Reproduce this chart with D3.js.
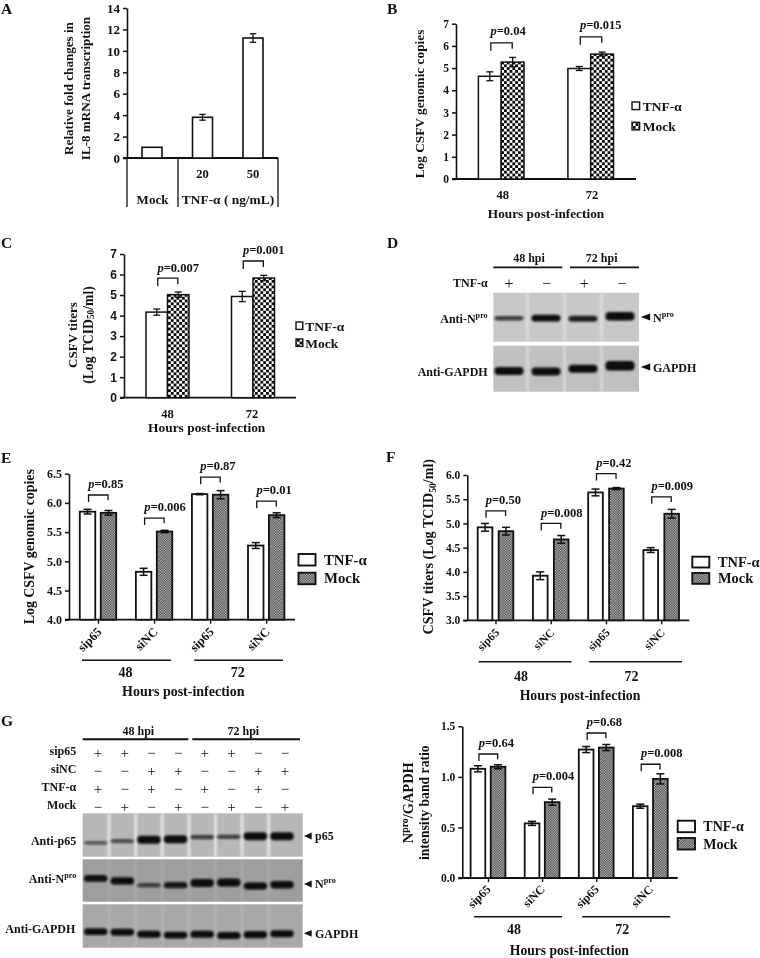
<!DOCTYPE html>
<html><head><meta charset="utf-8">
<script src="https://cdn.jsdelivr.net/npm/d3@7/dist/d3.min.js"></script>
<style>
html,body{margin:0;padding:0;background:#fff}
svg{display:block;filter:blur(0.3px)}
text{font-family:"Liberation Serif",serif;font-weight:700;fill:#111}
.domain,.tick line{stroke:#111}
</style></head><body><div id="c"></div>
<script>
// ---------- data ----------
const seriesNames = ["TNF-α","Mock"];
const ticksA = [0,2,4,6,8,10,12,14];
const dosesA = ["Mock","20","50"];
const foldA = [1,3.8,11.2];
const foldErrA = [0,0.27,0.4];

const hoursBC = ["48","72"];
const genomeB = [4.63,5.27,4.98,5.63];
const genomeErrB = [0.2,0.21,0.09,0.09];
const pLabelsB = ["0.04","0.015"];
const pLevelsB = [6.14,6.41];

const titerC = [4.17,5.02,4.93,5.83];
const titerErrC = [0.15,0.13,0.25,0.13];
const pLabelsC = ["0.007","0.001"];
const pLevelsC = [5.82,6.66];

const siCats = ["sip65","siNC","sip65","siNC"];
const genomeE = [5.85,5.83,4.82,5.51,6.15,6.14,5.27,5.79];
const genomeErrE = [0.04,0.04,0.06,0.02,0.01,0.07,0.05,0.04];
const pLabelsE = ["0.85","0.006","0.87","0.01"];
const pLevelsE = [6.135,5.74,6.44,6.03];

const titerF = [4.92,4.84,3.92,4.67,5.64,5.72,4.45,5.2];
const titerErrF = [0.08,0.08,0.08,0.08,0.07,0.02,0.05,0.09];
const pLabelsF = ["0.50","0.008","0.42","0.009"];
const pLevelsF = [5.26,5.0,6.03,5.55];

const ratioG = [1.08,1.10,0.54,0.75,1.27,1.29,0.71,0.98];
const ratioErrG = [0.03,0.02,0.02,0.03,0.03,0.03,0.02,0.05];
const pLabelsG = ["0.64","0.004","0.68","0.008"];
const pLevelsG = [1.226,0.897,1.434,1.125];

// western blots: band centre (fraction of row height), band strength
const signsD = ["+","−","+","−"];
const nproPosD = [0.52,0.52,0.53,0.48];
const nproStrD = [0.55,0.85,0.75,1.05];
const gapdhPosD = [0.55,0.56,0.5,0.435];
const gapdhStrD = [1,1,1,1.2];

const signsSip65 = ["+","+","−","−","+","+","−","−"];
const signsSiNC  = ["−","−","+","+","−","−","+","+"];
const signsTNF   = ["+","−","+","−","+","−","+","−"];
const signsMock  = ["−","+","−","+","−","+","−","+"];
const p65PosG  = [0.68,0.64,0.61,0.6,0.55,0.54,0.53,0.53];
const p65StrG  = [0.4,0.46,1,1,0.52,0.52,1,1];
const nproPosG = [0.45,0.51,0.61,0.61,0.56,0.55,0.63,0.6];
const nproStrG = [0.85,0.9,0.5,0.8,1,1,0.88,0.92];
const gapdhPosG= [0.63,0.645,0.69,0.71,0.69,0.72,0.70,0.68];
const gapdhStrG= [0.92,0.92,0.92,0.92,0.95,0.95,0.95,0.92];

// ---------- page ----------
const W=760,H=958;
const svg=d3.select("#c").append("svg").attr("width",W).attr("height",H).attr("viewBox",`0 0 ${W} ${H}`);
const defs=svg.append("defs");
function checker(id,cell,a,b){
  const p=defs.append("pattern").attr("id",id).attr("patternUnits","userSpaceOnUse").attr("width",cell*2).attr("height",cell*2);
  p.append("rect").attr("width",cell*2).attr("height",cell*2).attr("fill",a);
  p.append("rect").attr("width",cell).attr("height",cell).attr("fill",b);
  p.append("rect").attr("x",cell).attr("y",cell).attr("width",cell).attr("height",cell).attr("fill",b);
}
checker("chk",2.8,"#0a0a0a","#fff");
checker("fine",1.25,"#3a3a3a","#c8c8c8");
const blur=defs.append("filter").attr("id","blot").attr("x","-30%").attr("y","-80%").attr("width","160%").attr("height","260%");
blur.append("feGaussianBlur").attr("stdDeviation",0.9);
const blur2=defs.append("filter").attr("id","soft").attr("x","-50%").attr("y","-10%").attr("width","200%").attr("height","120%");
blur2.append("feGaussianBlur").attr("stdDeviation",1.2);

function rich(sel,parts,size){
  parts.forEach(pt=>{
    const s=typeof pt==="string"?{t:pt}:pt;
    const ts=sel.append("tspan").text(s.t);
    if(s.sup){ts.attr("dy",-size*0.3).attr("font-size",size*0.68);}
    else if(s.sub){ts.attr("dy",size*0.25).attr("font-size",size*0.68);}
    else if(s.it){ts.attr("font-style","italic");}
    if(s.back){ts.attr("dy",s.back*size);}
  });
  return sel;
}
function label(x,y,parts,size,anchor,rot){
  const t=svg.append("text").attr("font-size",size).attr("text-anchor",anchor||"middle").attr("dominant-baseline","central")
    .attr("transform",`translate(${x},${y})`+(rot?` rotate(${rot})`:""));
  return rich(t,Array.isArray(parts)?parts:[parts],size);
}
function line(x1,y1,x2,y2,sw){svg.append("line").attr("x1",x1).attr("y1",y1).attr("x2",x2).attr("y2",y2).attr("stroke","#111").attr("stroke-width",sw||1.5);}

function yAxis(c){
  const y=d3.scaleLinear().domain(c.domain).range(c.range);
  const ax=svg.append("g").attr("transform",`translate(${c.axisX},0)`)
    .call(d3.axisLeft(y).tickValues(c.ticks).tickFormat(c.fmt||d3.format("d")).tickSize(c.tick||4).tickSizeOuter(0));
  ax.selectAll(".domain").attr("stroke-width",1.6);
  ax.selectAll(".tick line").attr("stroke-width",1.5);
  ax.selectAll(".tick text").attr("font-size",c.tickFont).attr("x",-(c.tick||4)-c.tickGap)
    .style("font-family",c.tickFamily||null);
  line(c.axisX-(c.tick||4),y(c.domain[0]),c.axisEnd,y(c.domain[0]),1.8);
  return y;
}
function errorBar(x,y,v,e,cap,sw){
  if(!e)return;
  line(x,y(v-e),x,y(v+e),sw);line(x-cap,y(v-e),x+cap,y(v-e),sw);line(x-cap,y(v+e),x+cap,y(v+e),sw);
}
function legend(c){
  seriesNames.forEach((n,i)=>{
    svg.append("rect").attr("x",c.x).attr("y",c.ys[i]).attr("width",c.w).attr("height",c.h)
      .attr("fill",i?`url(#${c.pat})`:"#fff").attr("stroke","#111").attr("stroke-width",c.sw);
    label(c.tx,c.ys[i]+c.h/2,n,c.font,"start");
  });
}
function groupedPanel(c){
  const y=yAxis(c);
  const keys=c.cats.map((_,i)=>i);
  const xG=d3.scalePoint().domain(keys).range(c.xRange);
  const xS=d3.scaleBand().domain(seriesNames).range([-c.half,c.half]).paddingInner(c.inner);
  const rows=c.values.map((v,i)=>({v,e:c.errs[i],g:Math.floor(i/2),s:seriesNames[i%2]}));
  const bx=d=>xG(d.g)+xS(d.s);
  svg.append("g").selectAll("rect").data(rows).join("rect")
    .attr("x",bx).attr("width",xS.bandwidth()).attr("y",d=>y(d.v)).attr("height",d=>y(c.domain[0])-y(d.v))
    .attr("fill",d=>d.s==="Mock"?`url(#${c.pat})`:"#fff").attr("stroke","#111").attr("stroke-width",c.barSw);
  rows.forEach(d=>errorBar(bx(d)+xS.bandwidth()/2,y,d.v,d.e,c.cap,c.errSw));
  c.pLabels.forEach((p,i)=>{
    const a=xG(i)+xS(seriesNames[0])+xS.bandwidth()/2+c.brIn, b=xG(i)+xS(seriesNames[1])+xS.bandwidth()/2-c.brIn*0.4, t=y(c.pLevels[i]);
    svg.append("path").attr("d",d3.line()([[a,t+c.brDrop],[a,t],[b,t],[b,t+c.brDrop*0.75]])).attr("fill","none").attr("stroke","#111").attr("stroke-width",1.3);
    label(a-0.3,t-c.pGap,[{t:"p",it:true},"="+p],c.pFont,"start");
  });
  if(c.hasTicks){
    const ax=svg.append("g").attr("transform",`translate(0,${y(c.domain[0])})`)
      .call(d3.axisBottom(xG).tickSize(4).tickSizeOuter(0).tickFormat(i=>c.cats[i]));
    ax.select(".domain").remove();
    ax.selectAll(".tick line").attr("stroke-width",1.4);
    ax.selectAll(".tick text").attr("font-size",c.catFont).attr("text-anchor","end").attr("dy",0).attr("y",0)
      .attr("transform",`translate(${c.catDx},${c.catDy}) rotate(-45)`);
    [0,1].forEach(g=>{
      const m=(xG(g*2)+xG(g*2+1))/2;
      line(m+c.lineShift-c.lineHalf,c.lineY,m+c.lineShift+c.lineHalf,c.lineY,1.6);
      label(m+c.hourShift,c.hourY,c.hours[g],c.hourFont);
    });
  } else {
    c.cats.forEach((h,i)=>label(xG(i)+c.catShift[i],c.catY,h,c.catFont));
  }
  label(c.titleX,c.titleY,"Hours post-infection",c.titleFont);
  legend(c.legend);
}

[["A",1,8],["B",387,8],["C",1,242],["D",387,242],["E",1,456.5],["F",386,456],["G",1,720]]
  .forEach(d=>label(d[1],d[2],d[0],15.5,"start"));

// ---------- Panel A ----------
(function(){
  const y=yAxis({domain:[0,14],range:[158,8],ticks:ticksA,axisX:127,axisEnd:278,tickFont:13,tickGap:3});
  const x=d3.scalePoint().domain(dosesA).range([152,253]);
  svg.append("g").selectAll("rect").data(dosesA).join("rect")
    .attr("x",d=>x(d)-10).attr("width",20).attr("y",(d,i)=>y(foldA[i])).attr("height",(d,i)=>y(0)-y(foldA[i]))
    .attr("fill","#fff").attr("stroke","#111").attr("stroke-width",1.6);
  dosesA.forEach((d,i)=>errorBar(x(d),y,foldA[i],foldErrA[i],3.2,1.3));
  [127,178,278].forEach(v=>line(v,158,v,207,1.3));
  ["20","50"].forEach(d=>label(x(d),174,d,12.5));
  label(152.5,199,"Mock",13);
  label(228,199,"TNF-α ( ng/mL)",13.4);
  label(68,88.5,"Relative fold changes in",13.1,"middle",-90);
  label(84.5,88.5,"IL-8 mRNA transcription",13.1,"middle",-90);
})();

// ---------- Panels B, C ----------
groupedPanel({domain:[0,7],range:[179,23.7],ticks:[0,1,2,3,4,5,6,7],axisX:456,axisEnd:636,tickFont:11.5,tickGap:3,
  cats:hoursBC,values:genomeB,errs:genomeErrB,xRange:[501.2,590.7],half:22.8,inner:0,pat:"chk",barSw:1.5,cap:3.5,errSw:1.3,
  pLabels:pLabelsB,pLevels:pLevelsB,brDrop:8,brIn:1,pGap:11.3,pFont:12.5,catShift:[1.5,1.3],catY:195,catFont:12.5,
  titleX:546,titleY:212.7,titleFont:13.3,
  legend:{x:632,ys:[102,122.3],w:7.6,h:7.6,pat:"chk",sw:1.4,tx:642.7,font:13.5}});
label(419,104,"Log CSFV genomic copies",13.3,"middle",-90);

groupedPanel({domain:[0,7],range:[397.7,254],ticks:[0,1,2,3,4,5,6,7],axisX:124,axisEnd:296,tickFont:12,tickGap:3,tickFamily:"Liberation Sans",
  cats:hoursBC,values:titerC,errs:titerErrC,xRange:[167.5,253],half:21.5,inner:0,pat:"chk",barSw:1.5,cap:3.5,errSw:1.3,
  pLabels:pLabelsC,pLevels:pLevelsC,brDrop:8,brIn:1,pGap:10.5,pFont:12.5,catShift:[0,-1],catY:414,catFont:12.5,
  titleX:206.7,titleY:426.7,titleFont:13.4,
  legend:{x:296,ys:[322,339],w:6.8,h:7.4,pat:"chk",sw:1.4,tx:305.3,font:13.5}});
label(71.7,335,"CSFV titers",13,"middle",-90);
label(87.7,335,["(Log TCID",{t:"50",sub:true},{t:"/ml)",back:-0.25}],13.7,"middle",-90);

// ---------- Panels E, F, lower G chart ----------
const dec=d3.format(".1f");
groupedPanel({domain:[4,6.5],range:[619.7,473.7],ticks:[4,4.5,5,5.5,6,6.5],fmt:dec,axisX:69,axisEnd:295,tickFont:12,tickGap:3,
  cats:siCats,hours:hoursBC,values:genomeE,errs:genomeErrE,xRange:[98,266.2],half:18.2,inner:0.26,pat:"fine",barSw:1.8,cap:4,errSw:1.5,
  pLabels:pLabelsE,pLevels:pLevelsE,brDrop:7,brIn:1,pGap:11.3,pFont:12.5,hasTicks:true,catFont:12.5,catDx:4,catDy:13,
  lineY:660.3,lineHalf:44.4,lineShift:0.4,hourY:671.7,hourFont:14,hourShift:-0.5,
  titleX:183.3,titleY:690.7,titleFont:14,
  legend:{x:298.5,ys:[554,572.7],w:17,h:11.5,pat:"fine",sw:1.9,tx:324,font:14.8}});
label(29,546.7,"Log CSFV genomic copies",13.9,"middle",-90);

groupedPanel({domain:[3,6],range:[620.3,475],ticks:[3,3.5,4,4.5,5,5.5,6],fmt:dec,axisX:467.3,axisEnd:689.3,tickFont:11.5,tickGap:3,
  cats:siCats,hours:hoursBC,values:titerF,errs:titerErrF,xRange:[495.5,661.2],half:17.8,inner:0.3,pat:"fine",barSw:1.8,cap:4,errSw:1.5,
  pLabels:pLabelsF,pLevels:pLevelsF,brDrop:7,brIn:1,pGap:10.5,pFont:12.5,hasTicks:true,catFont:11.5,catDx:4,catDy:13,
  lineY:661.7,lineHalf:46.4,lineShift:2,hourY:675.7,hourFont:14,hourShift:-2,
  titleX:580,titleY:695,titleFont:13.8,
  legend:{x:692.3,ys:[556.7,573],w:17,h:10.8,pat:"fine",sw:1.9,tx:718,font:14.4}});
label(428.3,546.7,["CSFV titers (Log TCID",{t:"50",sub:true},{t:"/ml)",back:-0.25}],14.1,"middle",-90);

groupedPanel({domain:[0,1.5],range:[878,726.3],ticks:[0,0.5,1,1.5],fmt:dec,axisX:462.3,axisEnd:677.7,tickFont:11.5,tickGap:3,
  cats:siCats,hours:hoursBC,values:ratioG,errs:ratioErrG,xRange:[488,650.3],half:17.4,inner:0.27,pat:"fine",barSw:1.8,cap:4,errSw:1.5,
  pLabels:pLabelsG,pLevels:pLevelsG,brDrop:7,brIn:1,pGap:11,pFont:12.5,hasTicks:true,catFont:12,catDx:3,catDy:12,
  lineY:916.7,lineHalf:44,lineShift:3,hourY:929.3,hourFont:14,hourShift:-1,
  titleX:569.3,titleY:950,titleFont:13.6,
  legend:{x:677.7,ys:[820.7,838],w:17.3,h:11.5,pat:"fine",sw:1.9,tx:703.3,font:14}});
label(408.3,802.7,["N",{t:"pro",sup:true},{t:"/GAPDH",back:0.3}],14.4,"middle",-90);
label(424.3,802.7,"intensity band ratio",13.7,"middle",-90);

// ---------- Western blots ----------
function blotRow(c){
  const g=svg.append("g");
  const yR=d3.scaleLinear().domain([0,1]).range([c.y0,c.y1]);
  g.append("rect").attr("x",c.x0).attr("y",c.y0).attr("width",c.x1-c.x0).attr("height",c.y1-c.y0).attr("fill",c.bg);
  // faint lane columns, lighter gutters between them
  const clip="cl"+Math.round(c.y0);
  defs.append("clipPath").attr("id",clip).append("rect").attr("x",c.x0).attr("y",c.y0).attr("width",c.x1-c.x0).attr("height",c.y1-c.y0);
  g.append("g").attr("clip-path",`url(#${clip})`).append("g").attr("filter","url(#soft)").selectAll("rect").data(c.pos.slice(1)).join("rect")
    .attr("x",(d,i)=>(c.x(i)+c.x(i+1))/2-1.5).attr("width",3).attr("y",c.y0).attr("height",c.y1-c.y0).attr("fill","#fff").attr("opacity",c.gutter);
  g.append("g").attr("filter","url(#blot)").selectAll("rect").data(c.pos).join("rect")
    .attr("x",(d,i)=>c.x(i)-c.bw/2).attr("width",c.bw).attr("y",(d,i)=>yR(d)-c.th*c.str[i]/2).attr("height",(d,i)=>c.th*c.str[i])
    .attr("rx",c.th/2).attr("fill","#0c0c0c").attr("opacity",(d,i)=>Math.min(1,0.35+c.str[i]*0.75));
}
function arrow(x,y,len){
  svg.append("path").attr("d",d3.line()([[x,y],[x+len,y-3.4],[x+len,y+3.4]])+"Z").attr("fill","#111");
}
function signRow(x,signs,y,size){
  signs.forEach((s,i)=>{
    const t=label(x(i),y,s,size||15);
    t.style("font-weight",400);
  });
}
(function(){
  const x=d3.scalePoint().domain(d3.range(4)).range([509,620]);
  const xs=d3.scalePoint().domain(d3.range(4)).range([509,622]);
  label(529,258,"48 hpi",12);label(601.7,258,"72 hpi",12);
  line(493.3,267.3,562.3,267.3,1.8);line(570,267.3,639,267.3,1.8);
  label(487.7,282.7,"TNF-α",12,"end");
  signRow(xs,signsD,282.7,16);
  blotRow({x0:493.3,x1:639,y0:292.7,y1:341.7,bg:"#c8c8c8",gutter:0.35,pos:nproPosD,str:nproStrD,x,bw:29,th:8});
  blotRow({x0:493.3,x1:639,y0:345.7,y1:391.7,bg:"#c0c0c0",gutter:0.35,pos:gapdhPosD,str:gapdhStrD,x,bw:29,th:8});
  label(487.7,319,["Anti-N",{t:"pro",sup:true}],12,"end");
  label(487.7,371.7,"Anti-GAPDH",12,"end");
  arrow(640.7,317,9.5);arrow(640.7,367,9.5);
  label(653,317.5,["N",{t:"pro",sup:true}],12,"start");
  label(653,367.5,"GAPDH",12,"start");
})();
(function(){
  const x=d3.scalePoint().domain(d3.range(8)).range([95.7,282]);
  const xs=d3.scalePoint().domain(d3.range(8)).range([98,285]);
  label(138.3,730.7,"48 hpi",12);label(243.3,730.7,"72 hpi",12);
  line(82.7,739.3,188.3,739.3,2);line(192.3,739.3,300,739.3,2);
  [["sip65",signsSip65,752.3],["siNC",signsSiNC,770],["TNF-α",signsTNF,787.7],["Mock",signsMock,805.7]].forEach(r=>{
    label(76.3,r[2]-1,r[0],12,"end");
    signRow(xs,r[1],r[2]+1,15);
  });
  const opts={x0:82.7,x1:302.7,x,bw:23.5};
  blotRow({...opts,y0:813.3,y1:856.7,bg:"#b7b7b7",gutter:0.6,pos:p65PosG,str:p65StrG,th:8});
  blotRow({...opts,y0:859.3,y1:901.7,bg:"#9e9e9e",gutter:0.1,pos:nproPosG,str:nproStrG,th:8});
  blotRow({...opts,y0:904.3,y1:947.7,bg:"#a8a8a8",gutter:0.12,pos:gapdhPosG,str:gapdhStrG,th:7.5});
  label(76.3,840.7,"Anti-p65",12,"end");
  label(76.3,879,["Anti-N",{t:"pro",sup:true}],12,"end");
  label(75.3,929.3,"Anti-GAPDH",12,"end");
  [836,884,933.3].forEach(v=>arrow(304,v,7.7));
  label(315,835.5,"p65",12,"start");
  label(315,883.5,["N",{t:"pro",sup:true}],12,"start");
  label(315,933.5,"GAPDH",12,"start");
})();
</script></body></html>
